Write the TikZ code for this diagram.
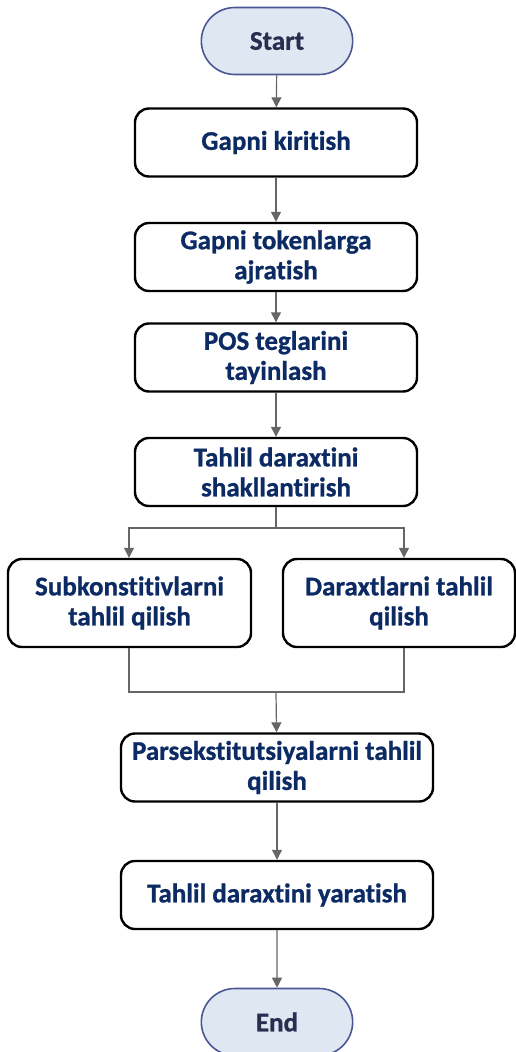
\documentclass[tikz,border=0pt]{standalone}
\usepackage{fontspec}
\setmainfont{Carlito}[Ligatures=NoCommon, BoldFeatures={FakeBold=0.9}]
\usetikzlibrary{arrows.meta,shapes.misc}
\definecolor{navy}{HTML}{0C2A63}
\definecolor{termtext}{HTML}{2A2C50}
\definecolor{termfill}{HTML}{DFE8F2}
\definecolor{termline}{HTML}{4A5794}
\definecolor{linkgray}{HTML}{666666}
\tikzset{
  stepbox/.style={draw=black, line width=2.4pt, rounded corners=14pt, fill=white,
    align=center, text=navy, font=\fontsize{27}{30}\selectfont\bfseries,
    minimum height=68pt, inner sep=1pt},
  terminal/.style={draw=termline, line width=1.6pt, rounded rectangle, fill=termfill,
    text=termtext, font=\fontsize{27}{30}\selectfont\bfseries,
    minimum width=158pt, minimum height=67pt},
  link/.style={draw=linkgray, line width=1.2pt, -{Triangle[width=10pt,length=10pt]}},
  plain/.style={draw=linkgray, line width=1.2pt}
}
\begin{document}
\begin{tikzpicture}[x=1pt,y=-1pt]
\useasboundingbox (0,0) rectangle (516,1052);
\begin{scope}
\clip (0,0) rectangle (516,1052);
\node[terminal] (start) at (277,41) {Start};
\node[stepbox, minimum width=282pt] (input) at (276,142.5) {Gapni kiritish};
\node[stepbox, minimum width=282pt] (token) at (276,257) {Gapni tokenlarga\\ajratish};
\node[stepbox, minimum width=282pt] (pos) at (276,357.5) {POS teglarini\\tayinlash};
\node[stepbox, minimum width=282pt] (tree) at (276,472) {Tahlil daraxtini\\shakllantirish};
\node[stepbox, minimum width=243pt, minimum height=88pt] (sub) at (129.5,603) {Subkonstitivlarni\\tahlil qilish};
\node[stepbox, minimum width=232pt, minimum height=88pt] (trees) at (399,603) {Daraxtlarni tahlil\\qilish};
\node[stepbox, minimum width=312pt] (parse) at (277,767.5) {Parsekstitutsiyalarni tahlil\\qilish};
\node[stepbox, minimum width=312pt] (build) at (277,895) {Tahlil daraxtini yaratish};
\node[terminal] (end) at (277,1022) {End};

\coordinate (split) at (276,528);
\coordinate (join) at (276,692);

\draw[link] (start) -- (input);
\draw[link] (input) -- (token);
\draw[link] (token) -- (pos);
\draw[link] (pos) -- (tree);
\draw[plain] (tree) -- (split);
\draw[link] (split) -| (sub.north -| 129,0);
\draw[link] (split) -| (trees.north -| 404,0);
\draw[plain] (sub.south -| 129,0) |- (join);
\draw[plain] (trees.south -| 404,0) |- (join);
\draw[link] (join) -- (parse);
\draw[link] (parse) -- (build);
\draw[link] (build) -- (end);
\end{scope}
\end{tikzpicture}
\end{document}
